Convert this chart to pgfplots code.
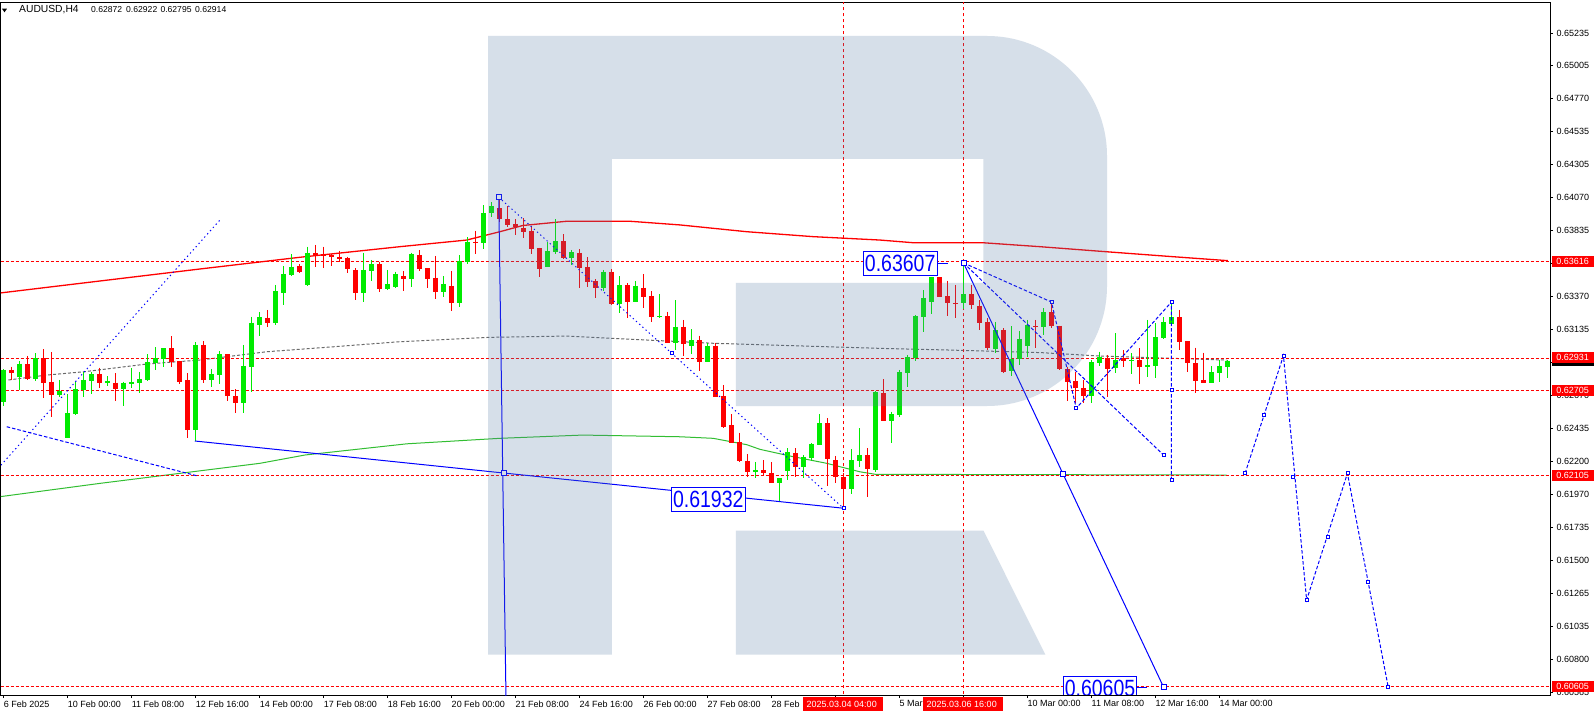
\documentclass[border=0pt]{standalone}
\usepackage{pgfplots}
\usepackage{pgfplotstable}
\pgfplotsset{compat=1.18}
\usepackage{graphicx}
\usepackage{fontspec}
\setmainfont{Liberation Sans}
\definecolor{bull}{RGB}{0,235,0}
\definecolor{bear}{RGB}{255,0,0}
\definecolor{ma2}{RGB}{50,190,50}
\definecolor{ma3}{RGB}{105,105,105}
\definecolor{logo}{RGB}{86,123,165}
\definecolor{fblue}{RGB}{0,0,255}

\pgfplotstableread{
i o h l c
0 0.62624 0.62856 0.62594 0.62849
2 0.62801 0.62912 0.62707 0.62893
4 0.62783 0.62969 0.62771 0.62932
7 0.62674 0.62778 0.62660 0.62702
8 0.62369 0.62679 0.62367 0.62544
9 0.62539 0.62766 0.62530 0.62712
10 0.62707 0.62836 0.62660 0.62778
11 0.62771 0.62836 0.62677 0.62820
13 0.62759 0.62806 0.62736 0.62773
15 0.62714 0.62766 0.62596 0.62759
16 0.62752 0.62861 0.62724 0.62766
17 0.62759 0.62836 0.62684 0.62785
18 0.62778 0.62962 0.62771 0.62905
19 0.62900 0.63009 0.62849 0.62934
20 0.62924 0.63004 0.62872 0.63004
24 0.62424 0.63045 0.62346 0.63026
26 0.62778 0.62856 0.62731 0.62820
27 0.62813 0.62983 0.62750 0.62962
30 0.62617 0.63026 0.62542 0.62877
31 0.62872 0.63226 0.62691 0.63184
32 0.63167 0.63257 0.63092 0.63222
34 0.63180 0.63451 0.63167 0.63408
35 0.63396 0.63585 0.63309 0.63529
36 0.63521 0.63670 0.63514 0.63580
38 0.63451 0.63722 0.63444 0.63679
45 0.63396 0.63679 0.63332 0.63557
46 0.63552 0.63628 0.63479 0.63597
48 0.63420 0.63557 0.63415 0.63458
49 0.63437 0.63545 0.63432 0.63526
51 0.63493 0.63679 0.63437 0.63670
55 0.63403 0.63514 0.63364 0.63458
57 0.63325 0.63663 0.63297 0.63621
58 0.63616 0.63788 0.63599 0.63757
60 0.63746 0.64017 0.63705 0.63958
61 0.63958 0.64036 0.63934 0.64010
68 0.63580 0.63757 0.63575 0.63691
69 0.63686 0.63918 0.63670 0.63762
71 0.63644 0.63698 0.63592 0.63682
75 0.63432 0.63557 0.63408 0.63545
77 0.63314 0.63514 0.63250 0.63451
79 0.63332 0.63479 0.63332 0.63444
82 0.63226 0.63387 0.63215 0.63231
84 0.63038 0.63344 0.62990 0.63156
86 0.63021 0.63137 0.62962 0.63061
88 0.62907 0.63038 0.62907 0.63021
94 0.62128 0.62199 0.62082 0.62140
97 0.62046 0.62082 0.61916 0.62082
98 0.62135 0.62294 0.62070 0.62268
100 0.62164 0.62247 0.62082 0.62230
101 0.62228 0.62330 0.62206 0.62325
102 0.62318 0.62537 0.62318 0.62471
106 0.62004 0.62289 0.61971 0.62211
107 0.62206 0.62436 0.62160 0.62247
109 0.62140 0.62700 0.62128 0.62691
111 0.62490 0.62554 0.62330 0.62537
112 0.62530 0.62849 0.62514 0.62836
113 0.62830 0.62955 0.62726 0.62939
114 0.62932 0.63238 0.62915 0.63231
115 0.63226 0.63415 0.63120 0.63361
116 0.63332 0.63509 0.63245 0.63505
120 0.63321 0.63607 0.63279 0.63387
124 0.62997 0.63191 0.62967 0.63132
126 0.62844 0.63160 0.62806 0.62924
127 0.62924 0.63125 0.62884 0.63068
128 0.63021 0.63203 0.62943 0.63167
130 0.63156 0.63285 0.63097 0.63257
136 0.62667 0.62919 0.62613 0.62903
137 0.62900 0.62978 0.62880 0.62939
139 0.62861 0.63109 0.62825 0.62919
141 0.62910 0.62969 0.62820 0.62919
143 0.62872 0.63203 0.62799 0.62882
144 0.62877 0.63179 0.62790 0.63080
145 0.63078 0.63224 0.63071 0.63187
146 0.63178 0.63330 0.63167 0.63222
151 0.62759 0.62877 0.62755 0.62836
152 0.62825 0.62919 0.62766 0.62877
153 0.62872 0.62922 0.62795 0.62914
}\bulltab

\pgfplotstableread{
i o h l c
1 0.62849 0.62872 0.62778 0.62830
3 0.62891 0.62948 0.62778 0.62785
5 0.62932 0.62997 0.62648 0.62759
6 0.62764 0.62974 0.62518 0.62672
12 0.62820 0.62865 0.62724 0.62759
14 0.62759 0.62827 0.62631 0.62714
21 0.63004 0.63089 0.62872 0.62903
22 0.62912 0.62912 0.62750 0.62764
23 0.62778 0.62825 0.62369 0.62424
25 0.63026 0.63054 0.62755 0.62778
28 0.62962 0.62962 0.62631 0.62667
29 0.62665 0.62712 0.62542 0.62617
33 0.63219 0.63274 0.63156 0.63184
37 0.63587 0.63597 0.63533 0.63543
39 0.63675 0.63734 0.63580 0.63663
40 0.63668 0.63722 0.63568 0.63656
41 0.63663 0.63670 0.63587 0.63647
42 0.63651 0.63694 0.63616 0.63635
43 0.63644 0.63651 0.63538 0.63561
44 0.63557 0.63568 0.63344 0.63396
47 0.63599 0.63616 0.63403 0.63422
50 0.63514 0.63550 0.63408 0.63495
52 0.63663 0.63698 0.63552 0.63564
53 0.63568 0.63568 0.63432 0.63493
54 0.63502 0.63656 0.63352 0.63403
56 0.63444 0.63550 0.63266 0.63321
59 0.63757 0.63835 0.63670 0.63746
62 0.63994 0.64072 0.63899 0.63916
63 0.63916 0.64010 0.63863 0.63875
64 0.63883 0.63916 0.63805 0.63859
65 0.63852 0.63923 0.63781 0.63828
66 0.63835 0.63868 0.63670 0.63704
67 0.63710 0.63715 0.63509 0.63561
70 0.63762 0.63810 0.63633 0.63644
72 0.63679 0.63703 0.63432 0.63573
73 0.63576 0.63647 0.63437 0.63474
74 0.63479 0.63491 0.63356 0.63432
76 0.63545 0.63564 0.63309 0.63316
78 0.63451 0.63463 0.63215 0.63332
80 0.63432 0.63529 0.63290 0.63368
81 0.63373 0.63408 0.63191 0.63226
83 0.63231 0.63262 0.63038 0.63042
85 0.63156 0.63203 0.62950 0.63031
87 0.63061 0.63092 0.62844 0.62907
89 0.63021 0.63042 0.62655 0.62660
90 0.62665 0.62743 0.62436 0.62447
91 0.62459 0.62535 0.62330 0.62334
92 0.62337 0.62405 0.62199 0.62206
93 0.62206 0.62254 0.62093 0.62128
95 0.62140 0.62211 0.62098 0.62121
96 0.62117 0.62197 0.62046 0.62050
99 0.62259 0.62294 0.62093 0.62164
103 0.62471 0.62507 0.62029 0.62216
104 0.62211 0.62240 0.62046 0.62093
105 0.62089 0.62117 0.61869 0.62004
108 0.62247 0.62294 0.61951 0.62145
110 0.62684 0.62785 0.62490 0.62490
117 0.63505 0.63509 0.63364 0.63368
118 0.63373 0.63481 0.63231 0.63321
119 0.63321 0.63451 0.63219 0.63316
121 0.63387 0.63451 0.63279 0.63309
122 0.63302 0.63344 0.63132 0.63184
123 0.63191 0.63215 0.62990 0.63002
125 0.63132 0.63144 0.62825 0.62836
129 0.63160 0.63203 0.63002 0.63153
131 0.63257 0.63330 0.63144 0.63160
132 0.63163 0.63163 0.62849 0.62856
133 0.62856 0.62872 0.62631 0.62766
134 0.62771 0.62836 0.62613 0.62719
135 0.62719 0.62778 0.62613 0.62667
138 0.62932 0.62955 0.62658 0.62856
140 0.62936 0.62990 0.62872 0.62912
142 0.62919 0.63002 0.62752 0.62872
147 0.63222 0.63274 0.62990 0.63049
148 0.63054 0.63054 0.62836 0.62896
149 0.62896 0.63007 0.62684 0.62773
150 0.62778 0.62971 0.62755 0.62759
}\beartab

\pgfplotsset{
  lvl/.style={bear, line width=1pt, dash pattern=on 3pt off 2pt, forget plot},
  vln/.style={bear, line width=0.9pt, dash pattern=on 3pt off 3pt, forget plot},
  fdot/.style={fblue, line width=1pt, dash pattern=on 1.3pt off 3pt, forget plot},
  fdash/.style={fblue, line width=1pt, dash pattern=on 3.5pt off 2pt, forget plot},
  fsolid/.style={fblue, line width=1pt, forget plot},
  candle/.style n args={2}{forget plot, draw=none, mark=none, mark size=0pt,
     error bars/.cd, y dir=minus, y explicit, error mark=none,
     error bar style={draw=#1, line width=#2, solid}},
}

\begin{document}
\begin{tikzpicture}[font=\fontsize{9}{10}\selectfont]
\fill[white] (-1pt,-21pt) rectangle (1595pt,695pt);
\begin{axis}[
  at={(0pt,0pt)}, anchor=south west,
  scale only axis, width=1549pt, height=692pt,
  xmin=-0.325, xmax=193.325, ymin=0.605474, ymax=0.654475,
  axis line style={black, line width=1pt},
  tick align=outside, major tick length=3pt,
  tick style={black, line width=1pt},
  xtick pos=left, ytick pos=right,
  xtick={0,8,...,152},
  xticklabels={6 Feb 2025,10 Feb 00:00,11 Feb 08:00,12 Feb 16:00,14 Feb 00:00,17 Feb 08:00,18 Feb 16:00,20 Feb 00:00,21 Feb 08:00,24 Feb 16:00,26 Feb 00:00,27 Feb 08:00,28 Feb,{},5 Mar,{},10 Mar 00:00,11 Mar 08:00,12 Mar 16:00,14 Mar 00:00},
  ytick={0.60565,0.60800,0.61035,0.61265,0.61500,0.61735,0.61970,0.62200,0.62435,0.62670,0.62900,0.63135,0.63370,0.63600,0.63835,0.64070,0.64305,0.64535,0.64770,0.65005,0.65235},
  yticklabels={0.60565,0.60800,0.61035,0.61265,0.61500,0.61735,0.61970,0.62200,0.62435,0.62670,{},0.63135,0.63370,{},0.63835,0.64070,0.64305,0.64535,0.64770,0.65005,0.65235},
  scaled y ticks=false, scaled x ticks=false,
  xticklabel style={anchor=north west, inner sep=0pt, yshift=-2.5pt},
  yticklabel style={anchor=west, inner sep=0pt, xshift=3.5pt},
  clip=true,
]
% moving averages
\addplot[bear, line width=1.3pt, forget plot] coordinates {(-0.45,0.63394) (12.05,0.63479) (24.55,0.63564) (37.05,0.63647) (49.55,0.63722) (57.9,0.63769) (62.05,0.63828) (64.9,0.63872) (70.4,0.63902) (78.3,0.63902) (84.55,0.63876) (92.9,0.63828) (101.2,0.63793) (109.55,0.63769) (113.7,0.63750) (122.4,0.63750) (129.55,0.63722) (137.9,0.63686) (146.2,0.63651) (153.05,0.63623)};
\addplot[ma2, line width=1pt, forget plot] coordinates {(-0.4,0.61952) (12.05,0.62046) (32.05,0.62188) (37.7,0.62247) (50.4,0.62326) (62.05,0.62365) (72.4,0.62388) (84.55,0.62376) (88.7,0.62365) (92.9,0.62320) (94.55,0.62287) (98.7,0.62235) (102.9,0.62188) (107.05,0.62128) (109,0.62110) (152.9,0.62105)};
\addplot[ma3, line width=1pt, dash pattern=on 3pt off 2pt, forget plot] coordinates {(0.6,0.62778) (5.4,0.62813) (10,0.62836) (17.9,0.62891) (24.5,0.62919) (32.9,0.62978) (41.2,0.63013) (49.5,0.63049) (60.8,0.63080) (70.4,0.63089) (88.7,0.63038) (109.6,0.63002) (118.3,0.62990) (129.6,0.62972) (137,0.62948) (152.9,0.62919)};
% levels
\addplot[lvl] coordinates {(-1,0.63616) (200,0.63616)};
\addplot[lvl] coordinates {(-1,0.62931) (200,0.62931)};
\addplot[lvl] coordinates {(-1,0.62705) (200,0.62705)};
\addplot[lvl] coordinates {(-1,0.62105) (200,0.62105)};
\addplot[lvl] coordinates {(-1,0.60605) (200,0.60605)};
\addplot[vln] coordinates {(105,0.60) (105,0.66)};
\addplot[vln] coordinates {(120,0.60) (120,0.66)};
% wicks
\addplot[candle={bull}{1pt}] table[x=i, y=h, y error expr=\thisrow{h}-\thisrow{l}] {\bulltab};
\addplot[candle={bear}{1pt}] table[x=i, y=h, y error expr=\thisrow{h}-\thisrow{l}] {\beartab};
% bodies
\addplot[candle={bull}{5pt}] table[x=i, y=c, y error expr=\thisrow{c}-\thisrow{o}] {\bulltab};
\addplot[candle={bear}{5pt}] table[x=i, y=o, y error expr=\thisrow{o}-\thisrow{c}] {\beartab};
% analysis lines
\addplot[fdot] coordinates {(-0.33,0.62175) (27.05,0.63911)};
\addplot[fdash] coordinates {(0.39,0.62447) (24.14,0.62100)};
\addplot[fdot] coordinates {(61.9,0.64072) (105,0.61870)};
\addplot[fsolid] coordinates {(23.9,0.62346) (105,0.61870)};
\addplot[fsolid] coordinates {(61.9,0.64072) (62.81,0.60512)};
\addplot[fsolid] coordinates {(120,0.63607) (145,0.60605)};
\addplot[fdash] coordinates {(120,0.63607) (145,0.62247)};
\addplot[fdash] coordinates {(120,0.63607) (131,0.63330) (134.1,0.62578) (146,0.63330) (146,0.62070)};
\addplot[fdash] coordinates {(155.2,0.62117) (160,0.62950) (162.9,0.61220) (168,0.62117) (173.1,0.60602)};
\addplot[forget plot, only marks, mark=square*, mark size=2.5pt, mark options={draw=fblue, fill=white, line width=0.8pt, solid}] coordinates {(61.9,0.64072) (62.5,0.62119) (120,0.63607) (132.46,0.62111) (145,0.60605)};
\addplot[forget plot, only marks, mark=square*, mark size=1.5pt, mark options={draw=fblue, fill=white, line width=0.7pt, solid}] coordinates {(83.55,0.62972) (105,0.61870) (131,0.63330) (134.1,0.62578) (146,0.63330) (146,0.62707) (146,0.62070) (145,0.62247) (155.2,0.62117) (157.5,0.62530) (160,0.62950) (161.2,0.62093) (162.9,0.61220) (165.6,0.61668) (168,0.62117) (170.5,0.61350) (173.1,0.60602)};
\end{axis}
\begin{scope}[x=1pt, y=-1pt, shift={(-1pt,695pt)}]
  % watermark logo overlay
  \fill[logo, opacity=0.24] (488.2,36) -- (987,36) .. controls (1053.3,36) and (1107,89.7) .. (1107,156) -- (1107,286) .. controls (1107,352.3) and (1053.3,406) .. (987,406) -- (735.8,406) -- (735.8,283) -- (983.4,283) -- (983.4,159) -- (611.8,159) -- (611.8,654.7) -- (488.2,654.7) -- cycle
    (735.8,530.5) -- (983.4,530.5) -- (1045.4,654.7) -- (735.8,654.7) -- cycle;
  % value labels
  \node[draw=fblue, fill=white, line width=1pt, inner sep=0pt, minimum width=73.7pt, minimum height=24pt, text=fblue] at (900.15,263.5) {\fontsize{23.5}{24}\selectfont\scalebox{0.83}[1]{0.63607}};
  \draw[fblue, line width=1pt] (937,263.3) -- (948,263.3);
  \node[draw=fblue, fill=white, line width=1pt, inner sep=0pt, minimum width=74pt, minimum height=24pt, text=fblue] at (708.25,499.2) {\fontsize{23.5}{24}\selectfont\scalebox{0.83}[1]{0.61932}};
  \begin{scope}
    \clip (0,0) rectangle (1550,694.4);
    \node[draw=fblue, fill=white, line width=1pt, inner sep=0pt, minimum width=73.4pt, minimum height=24pt, text=fblue] at (1100,688) {\fontsize{23.5}{24}\selectfont\scalebox{0.83}[1]{0.60605}};
  \end{scope}
  \draw[fblue, line width=1pt] (1136.7,687.3) -- (1146.7,687.3);
  % price tags
  \fill[black] (1551.5,355.4) rectangle (1593.5,366.2);
  \foreach \yy/\tt in {261.6/0.63616, 357.5/0.62931, 390.3/0.62705, 475.1/0.62105, 686.8/0.60605}{
    \fill[bear] (1551.5,\yy-5.4) rectangle (1593.5,\yy+5.4);
    \node[anchor=west, inner sep=0pt, text=white] at (1556.2,\yy) {\tt};
  }
  % date tags
  \fill[bear] (803.4,697) rectangle (882.6,711);
  \node[anchor=west, inner sep=0pt, text=white] at (806.5,704) {2025.03.04 04:00};
  \fill[bear] (923,697) rectangle (1003,711);
  \node[anchor=west, inner sep=0pt, text=white] at (926.5,704) {2025.03.06 16:00};
  % title
  \fill[black] (2,8.7) -- (7,8.7) -- (4.5,12.3) -- cycle;
  \node[anchor=west, inner sep=0pt, font=\fontsize{10.3}{11}\selectfont] at (19,9.6) {AUDUSD,H4};
  \node[anchor=west, inner sep=0pt, font=\fontsize{8.6}{10}\selectfont] at (91,9.6) {0.62872};
  \node[anchor=west, inner sep=0pt, font=\fontsize{8.6}{10}\selectfont] at (126,9.6) {0.62922};
  \node[anchor=west, inner sep=0pt, font=\fontsize{8.6}{10}\selectfont] at (160.3,9.6) {0.62795};
  \node[anchor=west, inner sep=0pt, font=\fontsize{8.6}{10}\selectfont] at (195,9.6) {0.62914};
  \pgfresetboundingbox
  \useasboundingbox (0,0) rectangle (1596,716);
\end{scope}
\end{tikzpicture}
\end{document}
